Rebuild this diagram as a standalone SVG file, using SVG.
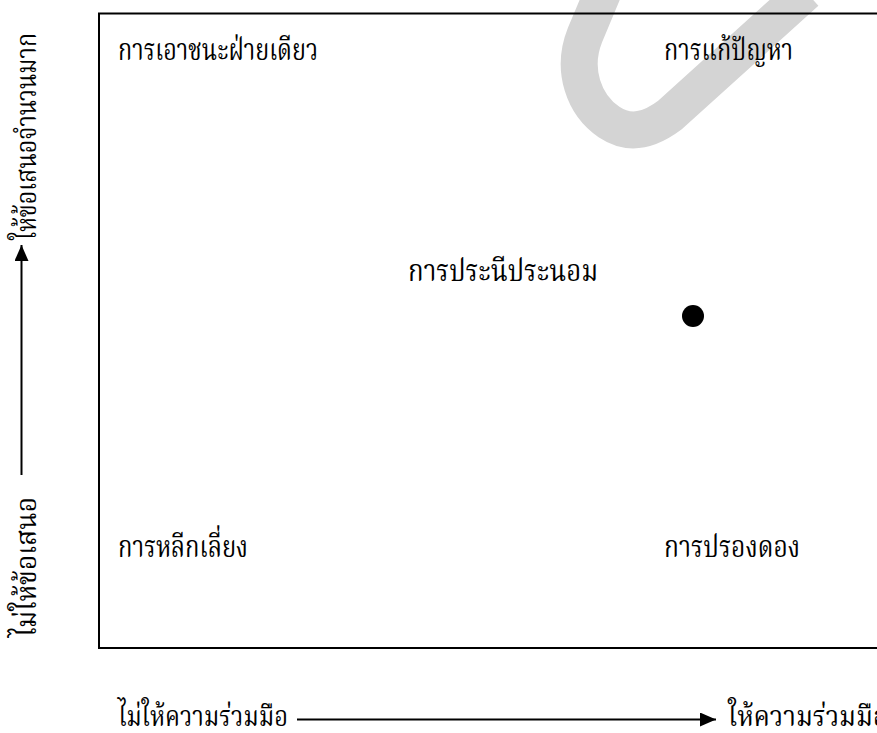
<svg xmlns="http://www.w3.org/2000/svg" width="877" height="733" viewBox="0 0 877 733">
<style>
.t{font-family:"Noto Serif Thai","Noto Sans Thai","Liberation Serif",serif;font-size:30px;fill:#000}
.a{font-family:"Noto Serif Thai","Noto Sans Thai","Liberation Serif",serif;font-size:28px;fill:#000}
.ax{stroke:#000;stroke-width:2;fill:none}
</style>
<defs>
<marker id="ah" viewBox="0 0 16 14" refX="16" refY="7" markerWidth="16" markerHeight="14" markerUnits="userSpaceOnUse" orient="auto">
<path d="M0,0 L16,7 L0,14 Z" fill="#000"/>
</marker>
</defs>
<rect width="877" height="733" fill="#fff"/>
<g id="watermark">
<path d="M603,-8 L585,35 C571,70 584,105 609,122 C630,136 650,130 670,115 L806,-8" fill="none" stroke="#d4d4d4" stroke-width="37"/>
</g>
<g id="frame">
<rect x="99" y="13.5" width="800" height="634.5" fill="none" stroke="#000" stroke-width="2"/>
</g>
<g id="dot"><circle cx="693" cy="316" r="11" fill="#000"/></g>
<g id="node-competing"><text class="t" x="118" y="60" textLength="200" lengthAdjust="spacingAndGlyphs">การเอาชนะฝ่ายเดียว</text></g>
<g id="node-collaborating"><text class="t" x="664" y="60" textLength="129" lengthAdjust="spacingAndGlyphs">การแก้ปัญหา</text></g>
<g id="node-compromising"><text class="t" x="408" y="281" textLength="190" lengthAdjust="spacingAndGlyphs">การประนีประนอม</text></g>
<g id="node-avoiding"><text class="t" x="118" y="557" textLength="130" lengthAdjust="spacingAndGlyphs">การหลีกเลี่ยง</text></g>
<g id="node-accommodating"><text class="t" x="664" y="557" textLength="136" lengthAdjust="spacingAndGlyphs">การปรองดอง</text></g>
<g id="axis-x-labels">
<text class="a" x="118" y="726" textLength="170" lengthAdjust="spacingAndGlyphs">ไม่ให้ความร่วมมือ</text>
<text class="a" x="728" y="726" textLength="160" lengthAdjust="spacingAndGlyphs">ให้ความร่วมมือ</text>
</g>
<g id="axis-y-labels">
<text class="a" transform="translate(36,637) rotate(-90)" textLength="140" lengthAdjust="spacingAndGlyphs">ไม่ให้ข้อเสนอ</text>
<text class="a" transform="translate(36,240) rotate(-90)" textLength="207" lengthAdjust="spacingAndGlyphs">ให้ข้อเสนอจำนวนมาก</text>
</g>
<g id="connectors">
<line class="ax" x1="297" y1="719.5" x2="716" y2="719.5" marker-end="url(#ah)"/>
<line class="ax" x1="21.5" y1="475" x2="21.5" y2="245" marker-end="url(#ah)"/>
</g>
</svg>
